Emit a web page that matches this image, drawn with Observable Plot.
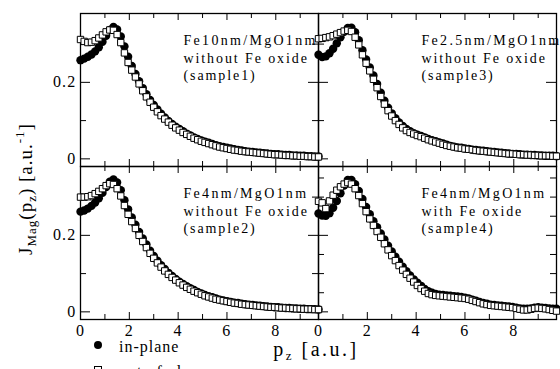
<!DOCTYPE html>
<html><head><meta charset="utf-8">
<script src="https://cdn.jsdelivr.net/npm/d3@7"></script>
<script src="https://cdn.jsdelivr.net/npm/@observablehq/plot@0.6"></script>
<style>html,body{margin:0;padding:0;background:#fff;} #chart{width:560px;height:369px;overflow:hidden;position:relative;}</style>
</head><body><div id="chart"></div><script>
// momentum p_z [a.u.]
const pz = [0,0.15,0.3,0.45,0.6,0.75,0.9,1.05,1.2,1.35,1.5,1.65,1.8,1.95,2.1,2.25,2.4,2.55,2.7,2.85,3,3.15,3.3,3.45,3.6,3.75,3.9,4.05,4.2,4.35,4.5,4.65,4.8,4.95,5.1,5.25,5.4,5.55,5.7,5.85,6,6.15,6.3,6.45,6.6,6.75,6.9,7.05,7.2,7.35,7.5,7.65,7.8,7.95,8.1,8.25,8.4,8.55,8.7,8.85,9,9.15,9.3,9.45,9.6,9.75];

// sample1 (Fe10nm/MgO1nm, without Fe oxide)
const s1In  = [0.258,0.262,0.267,0.273,0.281,0.292,0.306,0.322,0.337,0.345,0.338,0.320,0.294,0.267,0.243,0.222,0.203,0.185,0.169,0.154,0.141,0.129,0.118,0.108,0.099,0.091,0.084,0.078,0.072,0.066,0.061,0.056,0.052,0.048,0.045,0.042,0.039,0.036,0.033,0.031,0.029,0.027,0.025,0.023,0.022,0.020,0.019,0.018,0.017,0.016,0.015,0.014,0.013,0.012,0.012,0.011,0.010,0.010,0.009,0.009,0.008,0.008,0.007,0.007,0.006,0.006];
const s1Out = [0.312,0.307,0.304,0.305,0.309,0.316,0.324,0.332,0.337,0.336,0.325,0.304,0.277,0.252,0.232,0.214,0.196,0.178,0.162,0.148,0.135,0.123,0.113,0.104,0.096,0.088,0.081,0.075,0.069,0.064,0.059,0.054,0.050,0.046,0.043,0.040,0.037,0.034,0.031,0.029,0.027,0.025,0.023,0.022,0.020,0.019,0.018,0.017,0.016,0.015,0.014,0.013,0.012,0.011,0.011,0.010,0.009,0.009,0.008,0.008,0.007,0.007,0.006,0.006,0.005,0.005];
// sample3 (Fe2.5nm/MgO1nm, without Fe oxide)
const s3In  = [0.272,0.266,0.268,0.276,0.288,0.302,0.318,0.332,0.342,0.343,0.331,0.310,0.284,0.260,0.239,0.218,0.196,0.173,0.152,0.134,0.119,0.106,0.095,0.086,0.078,0.072,0.067,0.063,0.060,0.056,0.052,0.049,0.046,0.043,0.040,0.037,0.034,0.032,0.030,0.029,0.027,0.026,0.024,0.023,0.022,0.021,0.020,0.019,0.018,0.017,0.016,0.015,0.014,0.013,0.013,0.012,0.011,0.011,0.010,0.010,0.009,0.009,0.008,0.008,0.008,0.007];
const s3Out = [0.314,0.315,0.317,0.319,0.322,0.326,0.330,0.334,0.336,0.333,0.318,0.298,0.272,0.250,0.230,0.208,0.186,0.163,0.143,0.126,0.112,0.100,0.090,0.081,0.074,0.069,0.065,0.061,0.058,0.054,0.050,0.047,0.044,0.041,0.038,0.035,0.033,0.031,0.029,0.028,0.026,0.025,0.024,0.022,0.021,0.020,0.019,0.018,0.017,0.016,0.015,0.014,0.013,0.013,0.012,0.011,0.011,0.010,0.010,0.009,0.009,0.008,0.008,0.008,0.007,0.007];
// sample2 (Fe4nm/MgO1nm, without Fe oxide)
const s2In  = [0.262,0.265,0.270,0.277,0.286,0.297,0.311,0.326,0.340,0.346,0.338,0.318,0.292,0.268,0.247,0.228,0.209,0.192,0.176,0.160,0.146,0.134,0.122,0.112,0.102,0.094,0.086,0.079,0.073,0.067,0.062,0.057,0.052,0.048,0.044,0.041,0.038,0.035,0.032,0.030,0.028,0.026,0.024,0.023,0.021,0.020,0.019,0.018,0.017,0.016,0.015,0.014,0.013,0.012,0.012,0.011,0.010,0.010,0.009,0.009,0.008,0.008,0.007,0.007,0.007,0.006];
const s2Out = [0.300,0.300,0.301,0.304,0.309,0.315,0.322,0.330,0.335,0.333,0.322,0.303,0.278,0.255,0.236,0.218,0.200,0.184,0.168,0.153,0.140,0.128,0.117,0.107,0.098,0.090,0.083,0.076,0.070,0.064,0.059,0.054,0.050,0.046,0.042,0.039,0.036,0.033,0.031,0.029,0.027,0.025,0.023,0.022,0.020,0.019,0.018,0.017,0.016,0.015,0.014,0.013,0.012,0.012,0.011,0.010,0.010,0.009,0.009,0.008,0.008,0.007,0.007,0.007,0.006,0.006];
// sample4 (Fe4nm/MgO1nm, with Fe oxide)
const s4In  = [0.257,0.252,0.251,0.258,0.272,0.290,0.310,0.330,0.345,0.345,0.334,0.316,0.295,0.274,0.255,0.237,0.221,0.205,0.189,0.173,0.158,0.144,0.131,0.118,0.106,0.095,0.085,0.076,0.068,0.060,0.054,0.050,0.047,0.045,0.044,0.043,0.042,0.041,0.040,0.039,0.037,0.035,0.032,0.029,0.026,0.023,0.021,0.019,0.018,0.017,0.016,0.015,0.014,0.013,0.011,0.009,0.008,0.008,0.009,0.011,0.012,0.011,0.010,0.009,0.008,0.008];
const s4Out = [0.289,0.285,0.270,0.290,0.305,0.318,0.327,0.334,0.338,0.334,0.322,0.304,0.283,0.262,0.243,0.226,0.210,0.195,0.178,0.162,0.147,0.134,0.121,0.109,0.098,0.088,0.078,0.069,0.061,0.054,0.048,0.045,0.043,0.042,0.041,0.040,0.039,0.038,0.037,0.036,0.035,0.033,0.030,0.027,0.024,0.021,0.019,0.017,0.016,0.015,0.014,0.013,0.012,0.011,0.009,0.007,0.005,0.005,0.007,0.009,0.010,0.009,0.008,0.006,0.004,0.002];

const panelLabels = [
  "Fe10nm/MgO1nm\nwithout Fe oxide\n(sample1)",
  "Fe2.5nm/MgO1nm\nwithout Fe oxide\n(sample3)",
  "Fe4nm/MgO1nm\nwithout Fe oxide\n(sample2)",
  "Fe4nm/MgO1nm\nwith Fe oxide\n(sample4)"
];
const xMajor = [0,2,4,6,8];
const xMinor = [1,3,5,7,9];
const yMajor = [0,0.2];
const yMinorCoarse = [0.1,0.3];
const yMinorFine = [0.05,0.1,0.15,0.25,0.3,0.35];
const xTickLabels = ["0","2","4","6","8"];
const yTickLabels = ["0","0.2"];

const panels = [
  {fx:"L", fy:"T", inV:s1In, outV:s1Out, label:panelLabels[0], minor:yMinorCoarse},
  {fx:"R", fy:"T", inV:s3In, outV:s3Out, label:panelLabels[1], minor:yMinorCoarse},
  {fx:"L", fy:"B", inV:s2In, outV:s2Out, label:panelLabels[2], minor:yMinorCoarse},
  {fx:"R", fy:"B", inV:s4In, outV:s4Out, label:panelLabels[3], minor:yMinorFine}
];

const rowsIn = [], rowsOut = [], yMinorRows = [];
panels.forEach(p => {
  pz.forEach((x, i) => {
    rowsIn.push({fx:p.fx, fy:p.fy, x, y:p.inV[i]});
    rowsOut.push({fx:p.fx, fy:p.fy, x, y:p.outV[i]});
  });
  p.minor.forEach(v => yMinorRows.push({fx:p.fx, fy:p.fy, v}));
});
const xLabRows = [];
["L","R"].forEach(fx => xMajor.forEach((v,i) => xLabRows.push({fx, fy:"B", v, t:xTickLabels[i]})));
const yLabRows = [];
["T","B"].forEach(fy => yMajor.forEach((v,i) => yLabRows.push({fx:"L", fy, v, t:yTickLabels[i]})));

const FW = 238, FH = 153; // facet frame size in px
const annX = 4.22, annY = 0.329;
const SERIF = "Liberation Serif";

const plot = Plot.plot({
  width: 560, height: 369,
  marginLeft: 80, marginRight: 4, marginTop: 13, marginBottom: 50,
  x: {domain: [0, 9.75], axis: null},
  y: {domain: [-0.02, 0.38], axis: null},
  fx: {domain: ["L","R"], padding: 0, axis: null},
  fy: {domain: ["T","B"], padding: 0, axis: null},
  style: {fontFamily: SERIF, background: "white", color: "black"},
  marks: [
    Plot.frame({stroke: "black", strokeWidth: 1.3}),
    Plot.tickX(xMajor, {x: d => d, insetBottom: FH - 7, stroke: "black"}),
    Plot.tickX(xMajor, {x: d => d, insetTop: FH - 7, stroke: "black"}),
    Plot.tickX(xMinor, {x: d => d, insetBottom: FH - 5, stroke: "black"}),
    Plot.tickX(xMinor, {x: d => d, insetTop: FH - 5, stroke: "black"}),
    Plot.tickY(yMajor, {y: d => d, insetRight: FW - 10, stroke: "black"}),
    Plot.tickY(yMajor, {y: d => d, insetLeft: FW - 10, stroke: "black"}),
    Plot.tickY(yMinorRows, {y: "v", fx: "fx", fy: "fy", insetRight: FW - 6, stroke: "black"}),
    Plot.tickY(yMinorRows, {y: "v", fx: "fx", fy: "fy", insetLeft: FW - 6, stroke: "black"}),
    Plot.dot(rowsIn, {x: "x", y: "y", fx: "fx", fy: "fy", r: 4.2, fill: "black"}),
    Plot.dot(rowsOut, {x: "x", y: "y", fx: "fx", fy: "fy", symbol: "square", r: 3.6, fill: "white", stroke: "black", strokeWidth: 1}),
    Plot.text(panels, {fx: "fx", fy: "fy", x: () => annX, y: () => annY, text: "label", textAnchor: "start", lineAnchor: "top", lineHeight: 1.24, fontSize: 14, fill: "black"}),
    Plot.text(xLabRows, {fx: "fx", fy: "fy", x: "v", text: "t", frameAnchor: "bottom", lineAnchor: "top", dy: 5, fontSize: 16, fill: "black"}),
    Plot.text(yLabRows, {fx: "fx", fy: "fy", y: "v", text: "t", frameAnchor: "left", textAnchor: "end", dx: -4, fontSize: 16, fill: "black"})
  ]
});
document.getElementById("chart").appendChild(plot);

const svg = d3.select(plot);
svg.selectAll("text").each(function() {
  const s = this.textContent;
  const t = d3.select(this).attr("font-family", SERIF).style("font-family", SERIF);
  if (s.startsWith("Fe")) {
    t.style("letter-spacing", "1.9px");
    const first = this.querySelector("tspan");
    if (first) d3.select(first).style("letter-spacing", "2.3px");
  } else t.style("letter-spacing", "1.2px");
});

const g = svg.append("g").attr("font-family", SERIF).style("font-family", SERIF).attr("fill", "black").attr("text-anchor", "start");
// y axis label
const yl = g.append("text").attr("transform", "translate(32,189) rotate(-90)").attr("text-anchor", "middle").attr("font-size", 19).style("letter-spacing", "1px");
yl.append("tspan").text("J");
yl.append("tspan").attr("font-size", 13).attr("dy", 4).text("Mag");
yl.append("tspan").attr("dy", -4).text("(p");
yl.append("tspan").attr("font-size", 13).attr("dy", 4).text("z");
yl.append("tspan").attr("dy", -4).text(") [a.u.");
yl.append("tspan").attr("font-size", 13).attr("dy", -8).text("-1");
yl.append("tspan").attr("dy", 8).text("]");
// x axis label
const xl = g.append("text").attr("x", 316).attr("y", 356).attr("text-anchor", "middle").attr("font-size", 20).style("letter-spacing", "2.5px");
xl.append("tspan").text("p");
xl.append("tspan").attr("font-size", 13).attr("dy", 4).text("z");
xl.append("tspan").attr("dy", -4).text(" [a.u.]");
// legend
g.append("circle").attr("cx", 98).attr("cy", 345).attr("r", 4).attr("fill", "black");
g.append("text").attr("x", 119).attr("y", 352).attr("font-size", 16).style("letter-spacing", "1px").text("in-plane");
g.append("rect").attr("x", 94.5).attr("y", 366.5).attr("width", 7).attr("height", 7).attr("fill", "white").attr("stroke", "black");
g.append("text").attr("x", 119).attr("y", 377).attr("font-size", 16).style("letter-spacing", "1px").text("out of plane");
</script></body></html>
